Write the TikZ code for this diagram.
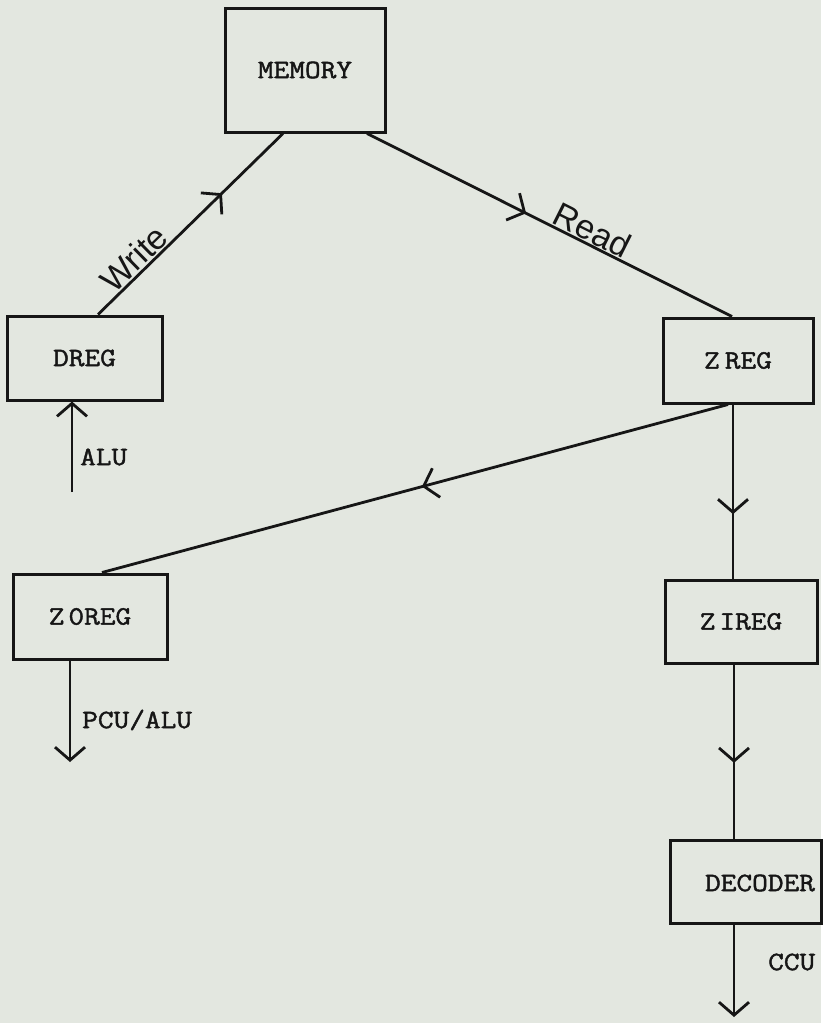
\documentclass[tikz,border=0pt]{standalone}
\usepackage{fontspec}
\newfontfamily\typewriter[FakeBold=1.6,FakeStretch=1.15]{Latin Modern Mono}
\newfontfamily\lettering{Liberation Sans}
\usetikzlibrary{arrows.meta,decorations.markings}
\definecolor{paper}{RGB}{227,231,224}
\definecolor{ink}{RGB}{22,22,22}

\begin{document}
\begin{tikzpicture}[x=1pt,y=-1pt,
  box/.style={draw=ink,line width=3pt,rectangle,inner sep=0pt,
    font=\typewriter\fontsize{26.5}{30}\selectfont,text=ink},
  wire/.style={draw=ink,line width=2.8pt},
  barb/.style={-{Straight Barb[length=13pt,width=30pt,line width=2.8pt]}},
  midbarb/.style={postaction={decorate},decoration={markings,
    mark=at position #1 with {\arrow{Straight Barb[length=13pt,width=30pt,line width=2.8pt]}}}},
  tag/.style={font=\typewriter\fontsize{26.5}{30}\selectfont,text=ink,inner sep=0pt,anchor=west},
  rw/.style={font=\lettering\fontsize{34}{36}\selectfont,text=ink,sloped,above,inner sep=1pt}
]
% paper
\fill[paper] (0,0) rectangle (821,1023);

% registers and memory
\node[box,minimum width=160pt,minimum height=124pt] (memory) at (305,70) {MEMORY};
\node[box,minimum width=155pt,minimum height=84pt] (dreg) at (84.5,358) {DREG};
\node[box,minimum width=150pt,minimum height=85pt] (zreg) at (738,360.5) {Z\kern5pt REG};
\node[box,minimum width=154pt,minimum height=85pt] (zoreg) at (90,616.5) {Z\kern4pt 0REG};
\node[box,minimum width=152pt,minimum height=83pt] (zireg) at (741,621.5) {Z\kern4pt IREG};
\node[box,minimum width=151pt,minimum height=83pt] (decoder) at (745.5,881.5) {};
\node[tag,anchor=center] (decodertext) at (760,883) {DECODER};

% memory traffic
\draw[wire,midbarb=0.67] ([xshift=13.5pt]dreg.north) -- ([xshift=-22pt]memory.south)
  node[rw,pos=0.25] (write) {Write};
\draw[wire,midbarb=0.436] ([xshift=62pt]memory.south) -- ([xshift=-6pt]zreg.north)
  node[rw,pos=0.6] (read) {Read};

% ZREG fan-out
\draw[wire,midbarb=0.489] ([xshift=-10pt]zreg.south) -- ([xshift=12pt]zoreg.north);
\draw[wire,midbarb=0.63] ([xshift=-5pt]zreg.south) coordinate (zr) -- (zr |- zireg.north);
\draw[wire,midbarb=0.565] ([xshift=-7pt]zireg.south) coordinate (zi) -- (zi |- decoder.north);

% external inputs and outputs
\coordinate (alustart) at (72,492);
\draw[wire,barb] (alustart) -- (alustart |- dreg.south);
\coordinate (pcuend) at (70,762);
\draw[wire,barb] (zoreg.south -| pcuend) -- (pcuend);
\coordinate (ccuend) at (734,1017);
\draw[wire,barb] (decoder.south -| ccuend) -- (ccuend);

\node[tag] (alu) at (80,457) {ALU};
\node[tag] (pcualu) at (82,720) {PCU/ALU};
\node[tag] (ccu) at (768,962) {CCU};
\end{tikzpicture}
\end{document}
